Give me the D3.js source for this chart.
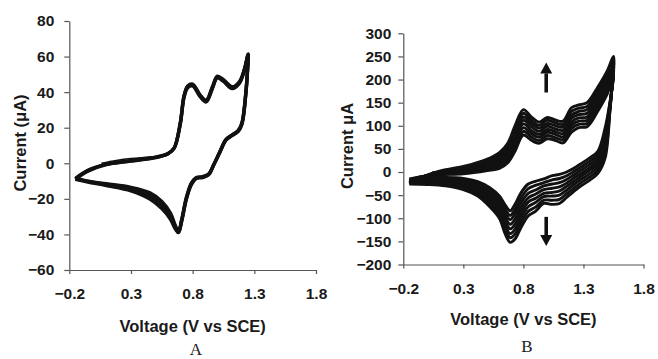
<!DOCTYPE html>
<html>
<head>
<meta charset="utf-8">
<script src="https://cdn.jsdelivr.net/npm/d3@7"></script>
<style>
  html, body { margin: 0; padding: 0; background: #fff; }
  svg { display: block; }
  .tick text { font-family: "Liberation Sans", Arial, sans-serif; font-weight: bold; fill: #1a1a1a; }
  .title { font-family: "Liberation Sans", Arial, sans-serif; font-weight: bold; fill: #1a1a1a; }
  .panel-label { font-family: "Liberation Serif", "Times New Roman", serif; fill: #1a1a1a; }
</style>
</head>
<body>
<div id="chart"></div>
<script>
// ---- data ----
var voltTicks = [-0.2, 0.3, 0.8, 1.3, 1.8];
var currentTicksA = [-60, -40, -20, 0, 20, 40, 60, 80];
var currentTicksB = [-200, -150, -100, -50, 0, 50, 100, 150, 200, 250, 300];

// panel A: forward (anodic) and reverse (cathodic) sweeps, three overlapping cycles
var fwdVoltA = [-0.15, -0.05, 0.1, 0.3, 0.5, 0.6, 0.65, 0.7, 0.73, 0.76, 0.8, 0.86, 0.91, 0.96, 1.0, 1.05, 1.12, 1.18, 1.22, 1.25];
var revVoltA = [1.245, 1.23, 1.2, 1.17, 1.12, 1.07, 1.02, 0.97, 0.93, 0.88, 0.83, 0.79, 0.75, 0.71, 0.685, 0.66, 0.62, 0.55, 0.45, 0.3, 0.1, -0.05, -0.15];
var cyclesA = [
  { fwd: [-8.5, -4, -0.5, 1.5, 3.5, 5.5, 8.5, 23, 38, 43.5, 44.5, 38.5, 35.5, 43, 49, 47, 43, 46, 53, 61.5],
    rev: [52, 38, 22, 18, 15.5, 13, 6, -1, -6, -7.5, -8, -11, -19, -32, -38.5, -35, -28, -21.5, -16.5, -13.5, -11.5, -10, -8.5] },
  { fwd: [-8.8, -4.2, -0.6, 1.4, 3.3, 5.4, 8.5, 22.5, 37.5, 43, 44, 38, 35, 42.5, 48.5, 46.5, 42.5, 45.5, 52.8, 61.2],
    rev: [52.5, 38.5, 22.5, 18.2, 15.8, 13.2, 6.2, -1, -6.2, -7.8, -8.2, -11.5, -19.5, -32.5, -38.8, -36, -29.8, -23.5, -18.2, -14.5, -12, -10.2, -8.8] },
  { fwd: [-9, -4.5, -0.8, 1.2, 3.2, 5.3, 8.5, 22, 37, 42.5, 43.5, 37.5, 34.5, 42, 48, 46, 42, 45, 52.5, 61],
    rev: [53, 39, 23, 18.5, 16, 13.5, 6.5, -1, -6.5, -8, -8.5, -12, -20, -33, -39, -37, -31.5, -25.5, -20, -15.5, -12.5, -10.5, -9] }
];
var startVoltA = [0.06, 0.18, 0.3, 0.42, 0.5];
var startCurA = [0, 1.6, 2.7, 3.3, 3.7];

// panel B: eight successive cycles
var fwdVoltB = [-0.15, -0.05, 0.1, 0.3, 0.5, 0.6, 0.67, 0.73, 0.8, 0.87, 0.93, 1.0, 1.07, 1.13, 1.2, 1.26, 1.33, 1.42, 1.5, 1.55];
var revVoltB = [1.54, 1.52, 1.48, 1.42, 1.35, 1.28, 1.22, 1.16, 1.1, 1.04, 0.97, 0.9, 0.84, 0.78, 0.73, 0.69, 0.65, 0.6, 0.52, 0.42, 0.3, 0.15, 0, -0.15];
var cyclesB = [
  { fwd: [-15, -10, -6, -4, 3, 8, 20, 45, 80, 68, 62, 72, 68, 63, 86, 96, 98, 132, 170, 205],
    rev: [185, 150, 95, 45, 30, 18, 8, 0, -5, -8, -15, -20, -26, -45, -70, -84, -72, -52, -34, -21, -14, -12, -13, -15] },
  { fwd: [-17, -10, -5, -2, 7, 13, 26, 53, 88, 75, 68, 79, 74, 70, 94, 103, 105, 139, 177, 211],
    rev: [186, 147, 86, 38, 23, 11, 1, -8, -14, -17, -23, -29, -36, -56, -81, -94, -81, -59, -40, -25, -17, -15, -15, -17] },
  { fwd: [-18, -11, -3, 0, 10, 18, 32, 61, 96, 82, 75, 86, 81, 76, 101, 110, 112, 146, 184, 218],
    rev: [188, 144, 76, 31, 16, 4, -6, -16, -23, -26, -30, -39, -46, -66, -91, -103, -90, -66, -46, -30, -21, -17, -17, -18] },
  { fwd: [-20, -11, -2, 3, 14, 23, 38, 69, 104, 89, 81, 92, 87, 83, 108, 117, 119, 153, 191, 224],
    rev: [189, 141, 67, 24, 9, -3, -13, -24, -32, -35, -38, -48, -56, -77, -102, -113, -99, -73, -52, -34, -24, -20, -19, -20] },
  { fwd: [-21, -11, -1, 5, 17, 28, 44, 77, 112, 97, 88, 99, 93, 90, 116, 124, 127, 161, 198, 231],
    rev: [190, 139, 58, 18, 3, -9, -20, -31, -41, -44, -46, -57, -65, -88, -113, -123, -108, -79, -57, -39, -28, -23, -21, -21] },
  { fwd: [-23, -12, 0, 7, 21, 33, 50, 85, 119, 104, 95, 105, 100, 97, 123, 131, 135, 168, 205, 237],
    rev: [192, 136, 49, 11, -4, -16, -27, -39, -50, -52, -53, -66, -75, -98, -124, -133, -117, -86, -63, -43, -31, -25, -23, -23] },
  { fwd: [-24, -12, 1, 10, 24, 37, 56, 92, 127, 111, 101, 112, 106, 103, 131, 138, 142, 176, 212, 244],
    rev: [193, 133, 39, 4, -11, -23, -35, -47, -59, -61, -61, -76, -85, -109, -134, -142, -126, -93, -69, -48, -35, -28, -25, -24] },
  { fwd: [-26, -12, 2, 12, 28, 42, 62, 100, 135, 118, 108, 118, 112, 110, 139, 145, 150, 184, 220, 250],
    rev: [195, 130, 30, -3, -18, -30, -42, -55, -68, -70, -68, -85, -95, -120, -145, -152, -135, -100, -75, -52, -38, -30, -27, -26] }
];
var startVoltB = [0.04, 0.2, 0.35, 0.5];
var startCurB = [0, 1, 4, 9];

// growth arrows in panel B (voltage, current from, current to)
var arrowVoltB = 0.99;
var arrowUpB = [172, 237];
var arrowDownB = [-97, -160];

// ---- drawing ----
var W = 658, H = 359;
var svg = d3.select('#chart').append('svg')
  .attr('width', W).attr('height', H);
svg.append('rect').attr('width', W).attr('height', H).attr('fill', '#fff');

function loopPoints(fv, rv, c) {
  var pts = fv.map(function(v, i) { return [v, c.fwd[i]]; });
  return pts.concat(rv.map(function(v, i) { return [v, c.rev[i]]; }));
}

function drawPanel(o) {
  var x = d3.scaleLinear().domain([-0.2, 1.8]).range(o.xr);
  var y = d3.scaleLinear().domain(o.yd).range(o.yr);
  var g = svg.append('g');

  var xAxis = d3.axisBottom(x).tickValues(voltTicks).tickFormat(d3.format('.1f'))
    .tickSize(4).tickSizeOuter(0).tickPadding(14);
  var gx = g.append('g').attr('transform', 'translate(0,' + o.yr[0] + ')').call(xAxis);
  var yAxis = d3.axisLeft(y).tickValues(o.yticks).tickFormat(d3.format('d'))
    .tickSize(5).tickSizeOuter(0).tickPadding(o.ypad);
  var gy = g.append('g').attr('transform', 'translate(' + o.xr[0] + ',0)').call(yAxis);
  [gx, gy].forEach(function(a) {
    a.select('.domain').attr('stroke', '#555').attr('stroke-width', 1.2);
    a.selectAll('.tick line').attr('stroke', '#555').attr('stroke-width', 1.2);
    a.selectAll('.tick text').style('font-size', '15.5px');
  });

  var line = d3.line()
    .x(function(d) { return x(d[0]); })
    .y(function(d) { return y(d[1]); })
    .curve(d3.curveCatmullRom.alpha(0.5));

  g.selectAll('path.cycle')
    .data(o.cycles)
    .enter()
    .append('path')
    .attr('class', 'cycle')
    .attr('d', function(c) { return line(loopPoints(o.fv, o.rv, c)); })
    .attr('fill', 'none')
    .attr('stroke', '#111')
    .attr('stroke-width', o.sw)
    .attr('stroke-linejoin', 'round');

  g.append('path')
    .attr('d', line(o.startV.map(function(v, i) { return [v, o.startI[i]]; })))
    .attr('fill', 'none').attr('stroke', '#111').attr('stroke-width', 1.6);

  var cx = (o.xr[0] + o.xr[1]) / 2;
  g.append('text').attr('class', 'title')
    .attr('x', cx).attr('y', o.xtY)
    .attr('text-anchor', 'middle').style('font-size', '16.5px')
    .text('Voltage (V vs SCE)');
  g.append('text').attr('class', 'title')
    .attr('transform', 'translate(' + o.ytX + ',' + o.ytY + ') rotate(-90)')
    .attr('text-anchor', 'middle').style('font-size', '16.5px')
    .text(o.ytitle);
  g.append('text').attr('class', 'panel-label')
    .attr('x', o.labX).attr('y', o.labY)
    .attr('text-anchor', 'middle').style('font-size', '17px')
    .text(o.label);

  return { x: x, y: y, g: g };
}

drawPanel({
  xr: [69.3, 316], yd: [-60, 80], yr: [270, 21], yticks: currentTicksA, ypad: 10,
  fv: fwdVoltA, rv: revVoltA, cycles: cyclesA, sw: 3.4,
  startV: startVoltA, startI: startCurA,
  xtY: 331.5, ytX: 26, ytY: 143, ytitle: 'Current (\u03bcA)',
  labX: 196, labY: 355, label: 'A'
});

var pb = drawPanel({
  xr: [403.3, 643.5], yd: [-200, 300], yr: [264.5, 33.3], yticks: currentTicksB, ypad: 7,
  fv: fwdVoltB, rv: revVoltB, cycles: cyclesB, sw: 2.9,
  startV: startVoltB, startI: startCurB,
  xtY: 325, ytX: 353, ytY: 146, ytitle: 'Current \u03bcA',
  labX: 527, labY: 352, label: 'B'
});

function arrow(p, v, range) {
  var ax = p.x(v), y0 = p.y(range[0]), y1 = p.y(range[1]);
  var dir = y1 < y0 ? 1 : -1;
  var head = 11;
  p.g.append('line')
    .attr('x1', ax).attr('x2', ax)
    .attr('y1', y0).attr('y2', y1 + dir * head)
    .attr('stroke', '#111').attr('stroke-width', 3.6);
  p.g.append('path')
    .attr('d', 'M' + ax + ',' + y1 + 'L' + (ax - 6) + ',' + (y1 + dir * head) +
      'L' + (ax + 6) + ',' + (y1 + dir * head) + 'Z')
    .attr('fill', '#111');
}
arrow(pb, arrowVoltB, arrowUpB);
arrow(pb, arrowVoltB, arrowDownB);
</script>
</body>
</html>
